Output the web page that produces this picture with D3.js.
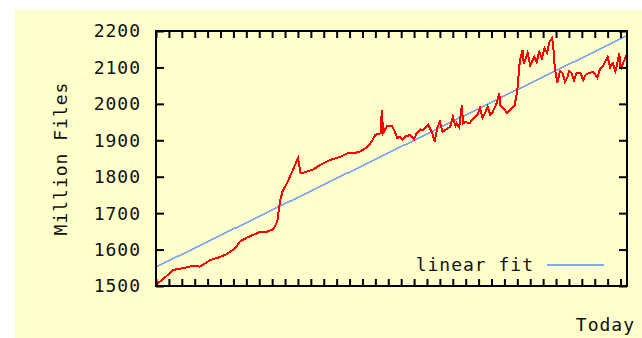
<!DOCTYPE html>
<html>
<head>
<meta charset="utf-8">
<script src="https://cdn.jsdelivr.net/npm/d3@7"></script>
<style>
  body { margin: 0; background: #fff; }
  svg { display: block; }
  text { font-family: "DejaVu Sans Mono", monospace; font-size: 18px; fill: #111; letter-spacing: 1px; }
</style>
</head>
<body>
<div id="chart"></div>
<script>
// days back over one year, 0 = a year ago, 365 = today
var days = [0, 9, 13, 21, 29, 34, 42, 50, 55, 61, 65, 70, 75, 81, 86, 91, 94, 95, 96, 98, 102, 106, 110, 112, 117, 122,
  127, 135, 143, 148, 153, 158, 164, 167, 170, 174, 175, 176, 179, 183, 185,
  187, 189, 191, 194, 197, 200, 202, 205, 207, 211, 214, 216, 218, 220, 222, 225, 228, 230, 232, 233, 235, 237, 238, 240, 243,
  246, 249, 251, 253, 255, 257, 259, 261, 264, 266, 267, 269, 272, 274, 276, 278, 280, 281, 282, 284, 285, 286, 288, 290, 291, 293, 295, 297, 299, 301, 303, 305, 307,
  308, 309, 311, 313, 315, 317, 319, 320, 322, 324, 326, 329, 331, 333, 336, 339, 342, 344, 346, 348, 350, 352, 354, 356, 357, 359, 360, 362, 364, 365];
var files = [1503, 1530, 1544, 1549, 1556, 1553, 1571, 1580, 1588, 1602, 1622, 1632, 1640, 1649, 1649, 1656, 1677, 1704, 1731, 1759, 1786, 1818, 1851, 1809, 1814, 1820,
  1832, 1846, 1855, 1864, 1864, 1869, 1882, 1896, 1915, 1919, 1983, 1920, 1939, 1939, 1924,
  1906, 1910, 1901, 1912, 1914, 1903, 1919, 1930, 1928, 1942, 1920, 1896, 1935, 1951, 1924, 1930, 1937, 1965, 1940, 1947, 1935, 1997, 1947, 1950, 1947,
  1960, 1969, 1989, 1961, 1975, 1992, 1970, 1978, 2002, 2029, 1995, 1989, 1975, 1983, 1990, 1997, 2038, 2080, 2120, 2148, 2110, 2120, 2140, 2105, 2112, 2129, 2115, 2143, 2125, 2153, 2140, 2171, 2181,
  2150, 2102, 2057, 2090, 2085, 2060, 2075, 2090, 2085, 2065, 2085, 2085, 2065, 2080, 2085, 2088, 2072, 2095, 2102, 2115, 2129, 2100, 2112, 2090, 2102, 2140, 2095, 2112, 2129, 2120];
// endpoints of the fitted line
var fitDays = [0, 365];
var fitFiles = [1552, 2187];
var yTicks = [1500, 1600, 1700, 1800, 1900, 2000, 2100, 2200];
var xTicks = d3.range(0, 365, 10);

var W = 642, H = 338;
var margin = {top: 31, right: 15, bottom: 52, left: 156};
var width = W - margin.left - margin.right;
var height = H - margin.top - margin.bottom;

var svg = d3.select("#chart").append("svg")
  .attr("width", W)
  .attr("height", H);

svg.append("rect")
  .attr("x", 15).attr("y", 10)
  .attr("width", W - 15).attr("height", H - 10)
  .attr("fill", "#ffffcc");

var g = svg.append("g")
  .attr("transform", "translate(" + margin.left + "," + margin.top + ")");

var x = d3.scaleLinear().domain([0, 365]).range([0, width]);
var y = d3.scaleLinear().domain([1500, 2200]).range([height, 0]);

var line = d3.line()
  .x(function(d) { return x(d[0]); })
  .y(function(d) { return y(d[1]); });

// fit line
g.append("path")
  .datum(d3.zip(fitDays, fitFiles))
  .attr("fill", "none")
  .attr("stroke", "#84a9f5")
  .attr("stroke-width", 1.8)
  .attr("shape-rendering", "crispEdges")
  .attr("d", line);

// data
g.append("path")
  .datum(d3.zip(days, files))
  .attr("fill", "none")
  .attr("stroke", "#ff0000")
  .attr("stroke-width", 2)
  .attr("shape-rendering", "crispEdges")
  .attr("d", line);

// axes, ticks inward on all sides
function styleAxis(sel) {
  sel.select(".domain").remove();
  sel.selectAll(".tick line").attr("stroke", "#000").attr("stroke-width", 2);
  sel.selectAll(".tick text").remove();
}
g.append("g")
  .attr("transform", "translate(0," + height + ")")
  .call(d3.axisBottom(x).tickValues(xTicks).tickSize(-7))
  .call(styleAxis);
g.append("g")
  .call(d3.axisTop(x).tickValues(xTicks).tickSize(-7))
  .call(styleAxis);
g.append("g")
  .call(d3.axisLeft(y).tickValues(yTicks).tickSize(-8))
  .call(styleAxis);
g.append("g")
  .attr("transform", "translate(" + width + ",0)")
  .call(d3.axisRight(y).tickValues(yTicks).tickSize(-8))
  .call(styleAxis);

g.append("rect")
  .attr("width", width).attr("height", height)
  .attr("fill", "none")
  .attr("stroke", "#000")
  .attr("stroke-width", 2);

// y labels
g.selectAll(".ylab")
  .data(yTicks)
  .enter().append("text")
  .attr("class", "ylab")
  .attr("x", -15)
  .attr("y", function(d) { return y(d); })
  .attr("dy", "0.36em")
  .attr("text-anchor", "end")
  .text(function(d) { return d; });

svg.append("text")
  .attr("transform", "translate(67," + (margin.top + height / 2) + ") rotate(-90)")
  .attr("text-anchor", "middle")
  .text("Million Files");

svg.append("text")
  .attr("x", 635).attr("y", 331)
  .attr("text-anchor", "end")
  .text("Today");

// legend
var legend = svg.append("g").attr("transform", "translate(0,265)");
legend.append("text")
  .attr("x", 534).attr("y", 0)
  .attr("dy", "0.36em")
  .attr("text-anchor", "end")
  .text("linear fit");
legend.append("line")
  .attr("x1", 547).attr("x2", 604)
  .attr("stroke", "#84a9f5")
  .attr("stroke-width", 1.8);
</script>
</body>
</html>
